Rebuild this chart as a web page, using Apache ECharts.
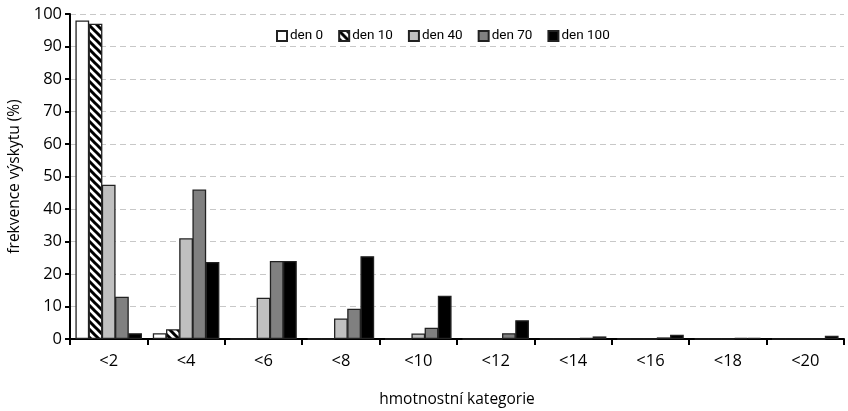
<!DOCTYPE html>
<html><head><meta charset="utf-8">
<script src="https://cdn.jsdelivr.net/npm/echarts@6/dist/echarts.min.js"></script>
<style>html,body{margin:0;padding:0;background:#fff}#c{width:848px;height:411px}</style>
</head><body><div id="c"></div>
<script>
var categories = ['<2','<4','<6','<8','<10','<12','<14','<16','<18','<20'];
var seriesNames = ['den 0','den 10','den 40','den 70','den 100'];
var den0   = [98, 1.8, 0, 0, 0, 0, 0, 0, 0, 0];
var den10  = [97, 3, 0, 0, 0, 0, 0, 0, 0, 0];
var den40  = [47.5, 31, 12.7, 6.3, 1.7, 0, 0, 0, 0, 0];
var den70  = [13, 46, 24, 9.3, 3.5, 1.8, 0.3, 0.5, 0.3, 0];
var den100 = [1.8, 23.7, 24, 25.5, 13.3, 5.8, 0.8, 1.3, 0.4, 1.0];
var yTicks = [0,10,20,30,40,50,60,70,80,90,100];

function hatch(){
  var c = document.createElement('canvas');
  c.width = 8; c.height = 8;
  var g = c.getContext('2d');
  g.fillStyle = '#fff'; g.fillRect(0,0,8,8);
  g.strokeStyle = '#000'; g.lineWidth = 3;
  g.beginPath();
  g.moveTo(-2,-2); g.lineTo(10,10);
  g.moveTo(-2,6); g.lineTo(2,10);
  g.moveTo(6,-2); g.lineTo(10,2);
  g.stroke();
  return {image: c, repeat: 'repeat'};
}
var fills = ['#ffffff', hatch(), '#c0c0c0', '#808080', '#000000'];
var data = [den0, den10, den40, den70, den100];
var lfont = 'Roboto,sans-serif';
var font = '"Open Sans",sans-serif';

var chart = echarts.init(document.getElementById('c'), null, {renderer:'canvas'});
chart.setOption({
  animation: false,
  backgroundColor: '#fff',
  grid: {left: 70, right: 4, top: 14, bottom: 72, containLabel: false, outerBoundsMode: 'none'},
  legend: {
    top: 24, left: 271, itemWidth: 10, itemHeight: 10, itemGap: 15, icon: 'rect',
    textStyle: {fontFamily: lfont, fontSize: 13.5, color: '#000', padding:[0,0,0,-2]},
    data: seriesNames
  },
  xAxis: {
    type: 'category', data: categories,
    name: 'hmotnostní kategorie', nameLocation: 'middle', nameGap: 53,
    nameTextStyle: {fontFamily: font, fontSize: 15.5, color: '#000'},
    axisLine: {lineStyle: {color: '#000', width: 2}},
    axisTick: {show: true, alignWithLabel: false, length: 6, lineStyle: {color: '#000', width: 2}},
    axisLabel: {fontFamily: font, fontSize: 16.5, color: '#000', margin: 14},
    splitLine: {show: false}
  },
  yAxis: {
    type: 'value', min: 0, max: 100, interval: 10,
    name: 'frekvence výskytu (%)', nameLocation: 'middle', nameGap: 45,
    nameTextStyle: {fontFamily: font, fontSize: 15.5, color: '#000'},
    axisLine: {show: true, lineStyle: {color: '#000', width: 2}},
    axisTick: {show: true, length: 5, lineStyle: {color: '#000', width: 2}},
    axisLabel: {fontFamily: font, fontSize: 16.5, color: '#000', margin: 8,
      formatter: function(v){ return yTicks.indexOf(v) >= 0 ? String(v) : ''; }},
    splitLine: {show: true, lineStyle: {color: '#c8c8c8', type: [6,4], width: 1}}
  },
  series: data.map(function(d, i){
    return {
      name: seriesNames[i], type: 'bar', data: d,
      barGap: '-4%', barCategoryGap: '14%',
      itemStyle: {color: fills[i], borderColor: '#222', borderWidth: 1.3},
      z: 2
    };
  })
});
</script></body></html>
